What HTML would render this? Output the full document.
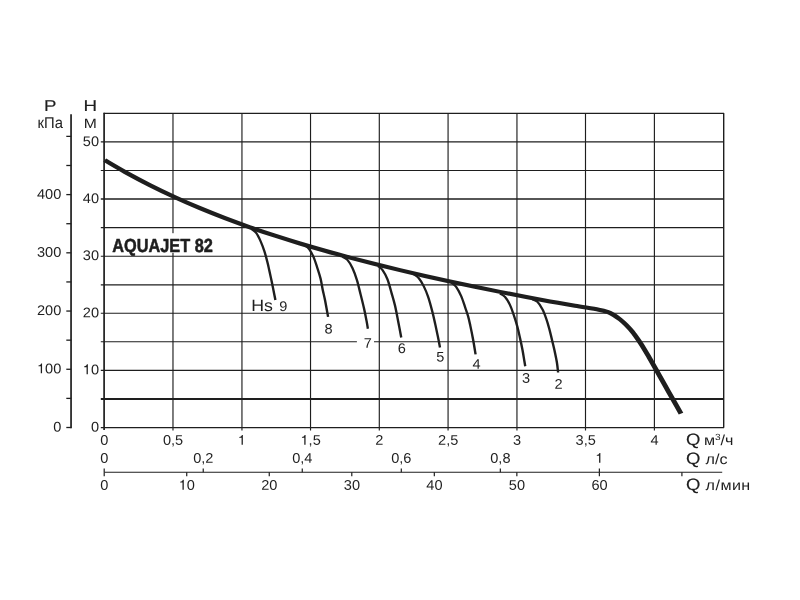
<!DOCTYPE html>
<html><head><meta charset="utf-8"><title>AQUAJET 82</title>
<style>html,body{margin:0;padding:0;background:#fff;}body{width:800px;height:600px;overflow:hidden;}svg{display:block;will-change:transform;}text{font-family:"Liberation Sans",sans-serif;text-rendering:geometricPrecision;fill:#1e1e1e;}</style></head><body>
<svg width="800" height="600" viewBox="0 0 800 600">
<rect width="800" height="600" fill="#fff"/>
<g stroke="#1e1e1e" stroke-width="1.15" fill="none">
<line x1="104.1" y1="112.85" x2="104.1" y2="430.1" stroke-width="1.7"/>
<line x1="172.98" y1="113.35" x2="172.98" y2="430.4"/>
<line x1="241.95" y1="113.35" x2="241.95" y2="430.4"/>
<line x1="310.53" y1="113.35" x2="310.53" y2="430.4"/>
<line x1="379.30" y1="113.35" x2="379.30" y2="430.4"/>
<line x1="448.07" y1="113.35" x2="448.07" y2="430.4"/>
<line x1="516.95" y1="113.35" x2="516.95" y2="430.4"/>
<line x1="585.50" y1="113.35" x2="585.50" y2="430.4"/>
<line x1="654.40" y1="113.35" x2="654.40" y2="430.4"/>
<line x1="723.7" y1="113.35" x2="723.7" y2="427.4" stroke-width="1.4"/>
<line x1="100.8" y1="427.55" x2="724.1" y2="427.55" stroke-width="1.15"/>
<line x1="100.8" y1="399.00" x2="723.6" y2="399.00" stroke-width="1.9"/>
<line x1="100.8" y1="370.30" x2="723.6" y2="370.30" stroke-width="1.15"/>
<path d="M100.8 341.75H356.9M374 341.75H723.6" stroke-width="1.15"/>
<line x1="100.8" y1="313.20" x2="723.6" y2="313.20" stroke-width="1.15"/>
<line x1="100.8" y1="284.80" x2="723.6" y2="284.80" stroke-width="1.15"/>
<line x1="100.8" y1="256.20" x2="723.6" y2="256.20" stroke-width="1.15"/>
<line x1="100.8" y1="227.55" x2="723.6" y2="227.55" stroke-width="1.15"/>
<line x1="100.8" y1="199.00" x2="723.6" y2="199.00" stroke-width="1.6"/>
<line x1="100.8" y1="170.45" x2="723.6" y2="170.45" stroke-width="1.15"/>
<line x1="100.8" y1="141.90" x2="723.6" y2="141.90" stroke-width="1.15"/>
<line x1="103.7" y1="113.35" x2="724.1" y2="113.35" stroke-width="1.15"/>
</g>
<g stroke="#1e1e1e" stroke-width="1.7" fill="none">
<line x1="71.05" y1="114.2" x2="71.05" y2="428.15"/>
<line x1="66.3" y1="427.50" x2="71.25" y2="427.50" stroke-width="1.3"/>
<line x1="66.3" y1="398.39" x2="71.25" y2="398.39" stroke-width="1.3"/>
<line x1="66.3" y1="369.27" x2="71.25" y2="369.27" stroke-width="1.3"/>
<line x1="66.3" y1="340.16" x2="71.25" y2="340.16" stroke-width="1.3"/>
<line x1="66.3" y1="311.05" x2="71.25" y2="311.05" stroke-width="1.3"/>
<line x1="66.3" y1="281.94" x2="71.25" y2="281.94" stroke-width="1.3"/>
<line x1="66.3" y1="252.82" x2="71.25" y2="252.82" stroke-width="1.3"/>
<line x1="66.3" y1="223.71" x2="71.25" y2="223.71" stroke-width="1.3"/>
<line x1="66.3" y1="194.60" x2="71.25" y2="194.60" stroke-width="1.3"/>
<line x1="66.3" y1="165.49" x2="71.25" y2="165.49" stroke-width="1.3"/>
<line x1="66.3" y1="136.38" x2="71.25" y2="136.38" stroke-width="1.3"/>
</g>
<g stroke="#1e1e1e" stroke-width="1.2" fill="none">
<line x1="104.2" y1="472.25" x2="722.2" y2="472.25"/>
<line x1="104.20" y1="468.55" x2="104.20" y2="472.25"/>
<line x1="203.24" y1="468.55" x2="203.24" y2="472.25"/>
<line x1="302.27" y1="468.55" x2="302.27" y2="472.25"/>
<line x1="401.31" y1="468.55" x2="401.31" y2="472.25"/>
<line x1="500.34" y1="468.55" x2="500.34" y2="472.25"/>
<line x1="599.38" y1="468.55" x2="599.38" y2="472.25"/>
<line x1="104.20" y1="472.25" x2="104.20" y2="476.15"/>
<line x1="186.73" y1="472.25" x2="186.73" y2="476.15"/>
<line x1="269.26" y1="472.25" x2="269.26" y2="476.15"/>
<line x1="351.79" y1="472.25" x2="351.79" y2="476.15"/>
<line x1="434.32" y1="472.25" x2="434.32" y2="476.15"/>
<line x1="516.85" y1="472.25" x2="516.85" y2="476.15"/>
<line x1="599.38" y1="472.25" x2="599.38" y2="476.15"/>
<line x1="681.91" y1="472.25" x2="681.91" y2="476.15"/>
</g>
<g transform="scale(1.22 1)"><path d="M85.82 160.20C88.59 162.16 96.27 167.81 102.46 171.98C108.65 176.15 116.12 181.02 122.95 185.23C129.78 189.45 136.61 193.43 143.44 197.25C150.27 201.08 157.10 204.70 163.93 208.18C170.77 211.66 177.60 214.97 184.43 218.15C191.26 221.34 198.09 224.36 204.92 227.29C211.75 230.22 218.58 233.00 225.41 235.71C232.24 238.41 239.07 240.99 245.90 243.50C252.73 246.01 259.56 248.42 266.39 250.77C273.22 253.12 280.05 255.38 286.89 257.58C293.72 259.79 300.55 261.92 307.38 264.01C314.21 266.09 321.04 268.12 327.87 270.10C334.70 272.08 341.53 274.02 348.36 275.91C355.19 277.80 362.02 279.65 368.85 281.46C375.68 283.27 382.51 285.05 389.34 286.78C396.17 288.52 403.01 290.22 409.84 291.88C416.67 293.54 423.50 295.17 430.33 296.76C437.16 298.34 443.99 299.89 450.82 301.40C457.65 302.90 464.65 304.40 471.31 305.78C477.97 307.16 486.34 308.65 490.78 309.67C495.22 310.69 495.90 311.01 497.95 311.90C500.00 312.79 501.37 313.75 503.07 315.00C504.78 316.25 506.49 317.73 508.20 319.40C509.90 321.07 511.61 322.92 513.32 325.00C515.03 327.08 516.73 329.30 518.44 331.90C520.15 334.50 521.86 337.53 523.57 340.60C525.27 343.67 527.15 347.25 528.69 350.30C530.23 353.35 531.25 355.63 532.79 358.90C534.32 362.17 535.86 365.48 537.91 369.90C539.96 374.32 542.86 380.62 545.08 385.40C547.30 390.18 549.04 393.90 551.23 398.60C553.42 403.30 557.04 411.10 558.20 413.60" fill="none" stroke="#1e1e1e" stroke-width="4.1" stroke-linejoin="round"/></g>
<g transform="scale(1.22 1)" fill="none" stroke="#1e1e1e" stroke-width="1.95">
<path d="M206.48 229.40C207.07 230.02 208.85 231.12 210.04 233.10C211.23 235.07 212.49 238.22 213.61 241.25C214.72 244.28 215.78 247.71 216.72 251.25C217.66 254.79 218.61 259.38 219.26 262.50C219.92 265.62 220.05 266.67 220.66 270.00C221.26 273.33 222.16 278.33 222.87 282.50C223.58 286.67 224.44 292.08 224.92 295.00C225.40 297.92 225.60 299.17 225.74 300.00"/>
<path d="M249.51 245.00C250.19 245.73 252.33 247.32 253.61 249.40C254.88 251.48 256.07 254.32 257.17 257.50C258.28 260.68 259.31 264.96 260.25 268.50C261.18 272.04 262.07 275.17 262.79 278.75C263.50 282.33 263.95 286.46 264.55 290.00C265.15 293.54 265.66 295.52 266.39 300.00C267.12 304.48 268.51 314.08 268.93 316.90"/>
<path d="M280.74 256.90C281.42 257.42 283.47 258.13 284.84 260.00C286.20 261.87 287.65 264.77 288.93 268.10C290.22 271.43 291.43 275.62 292.54 280.00C293.65 284.38 294.59 289.60 295.57 294.40C296.56 299.20 297.62 304.33 298.44 308.80C299.26 313.27 299.97 317.88 300.49 321.20C301.01 324.52 301.38 327.49 301.56 328.75"/>
<path d="M309.92 266.25C310.52 266.88 312.24 267.81 313.52 270.00C314.81 272.19 316.41 275.65 317.62 279.40C318.84 283.15 319.80 288.15 320.82 292.50C321.84 296.85 322.84 300.67 323.77 305.50C324.70 310.33 325.54 316.17 326.39 321.50C327.25 326.83 328.48 334.83 328.89 337.50"/>
<path d="M339.14 274.40C339.82 275.02 341.87 276.12 343.24 278.10C344.60 280.08 346.06 283.13 347.34 286.25C348.61 289.37 349.73 292.59 350.90 296.80C352.07 301.01 353.36 306.90 354.34 311.50C355.33 316.10 356.05 320.28 356.80 324.40C357.55 328.52 358.21 332.35 358.85 336.20C359.49 340.05 360.36 345.62 360.66 347.50"/>
<path d="M370.41 283.10C371.00 283.73 372.70 284.71 373.98 286.90C375.25 289.09 376.85 292.82 378.07 296.25C379.30 299.68 380.38 304.17 381.31 307.50C382.25 310.83 382.99 313.23 383.69 316.25C384.39 319.27 384.82 321.81 385.49 325.60C386.16 329.39 386.98 334.20 387.70 339.00C388.43 343.80 389.48 351.83 389.84 354.40"/>
<path d="M409.84 293.75C410.52 294.27 412.57 295.02 413.93 296.90C415.30 298.77 416.84 301.98 418.03 305.00C419.23 308.02 420.11 311.42 421.11 315.00C422.10 318.58 423.16 322.67 424.02 326.50C424.87 330.33 425.52 334.08 426.23 338.00C426.94 341.92 427.68 346.12 428.28 350.00C428.88 353.88 429.46 358.54 429.84 361.25C430.21 363.96 430.42 365.42 430.53 366.25"/>
<path d="M436.48 299.40C437.16 299.82 439.21 300.23 440.57 301.90C441.94 303.57 443.48 306.59 444.67 309.40C445.87 312.21 446.83 315.57 447.75 318.75C448.66 321.93 449.39 325.04 450.16 328.50C450.94 331.96 451.67 335.92 452.38 339.50C453.09 343.08 453.74 346.17 454.43 350.00C455.11 353.83 455.97 358.75 456.48 362.50C456.98 366.25 457.30 370.83 457.46 372.50"/>
</g>
<g transform="translate(104.30 444.85) rotate(0.03) scale(1.04 1)"><text x="-3.89" font-size="14.0">0</text></g>
<g transform="translate(173.08 444.85) rotate(0.03) scale(1.04 1)"><text x="-9.73" font-size="14.0">0,5</text></g>
<g transform="translate(241.85 444.85) rotate(0.03) scale(1.04 1)"><path transform="translate(-3.89 0) scale(0.01400 -0.01400)" d="M347 0H259V505H100V566C190 572 258 622 286 709H347Z" fill="#1e1e1e"/></g>
<g transform="translate(310.63 444.85) rotate(0.03) scale(1.04 1)"><path transform="translate(-9.73 0) scale(0.01400 -0.01400)" d="M347 0H259V505H100V566C190 572 258 622 286 709H347Z" fill="#1e1e1e"/><text x="-1.94" font-size="14.0">,5</text></g>
<g transform="translate(379.40 444.85) rotate(0.03) scale(1.04 1)"><text x="-3.89" font-size="14.0">2</text></g>
<g transform="translate(448.18 444.85) rotate(0.03) scale(1.04 1)"><text x="-9.73" font-size="14.0">2,5</text></g>
<g transform="translate(516.95 444.85) rotate(0.03) scale(1.04 1)"><text x="-3.89" font-size="14.0">3</text></g>
<g transform="translate(585.73 444.85) rotate(0.03) scale(1.04 1)"><text x="-9.73" font-size="14.0">3,5</text></g>
<g transform="translate(654.50 444.85) rotate(0.03) scale(1.04 1)"><text x="-3.89" font-size="14.0">4</text></g>
<g transform="translate(104.20 462.85) rotate(0.03) scale(1.04 1)"><text x="-3.89" font-size="14.0">0</text></g>
<g transform="translate(203.24 462.85) rotate(0.03) scale(1.04 1)"><text x="-9.73" font-size="14.0">0,2</text></g>
<g transform="translate(302.27 462.85) rotate(0.03) scale(1.04 1)"><text x="-9.73" font-size="14.0">0,4</text></g>
<g transform="translate(401.31 462.85) rotate(0.03) scale(1.04 1)"><text x="-9.73" font-size="14.0">0,6</text></g>
<g transform="translate(500.34 462.85) rotate(0.03) scale(1.04 1)"><text x="-9.73" font-size="14.0">0,8</text></g>
<g transform="translate(599.38 462.85) rotate(0.03) scale(1.04 1)"><path transform="translate(-3.89 0) scale(0.01400 -0.01400)" d="M347 0H259V505H100V566C190 572 258 622 286 709H347Z" fill="#1e1e1e"/></g>
<g transform="translate(104.30 489.65) rotate(0.03) scale(1.04 1)"><text x="-3.89" font-size="14.0">0</text></g>
<g transform="translate(186.83 489.65) rotate(0.03) scale(1.04 1)"><path transform="translate(-7.79 0) scale(0.01400 -0.01400)" d="M347 0H259V505H100V566C190 572 258 622 286 709H347Z" fill="#1e1e1e"/><text x="0.00" font-size="14.0">0</text></g>
<g transform="translate(269.36 489.65) rotate(0.03) scale(1.04 1)"><text x="-7.79" font-size="14.0">20</text></g>
<g transform="translate(351.89 489.65) rotate(0.03) scale(1.04 1)"><text x="-7.79" font-size="14.0">30</text></g>
<g transform="translate(434.42 489.65) rotate(0.03) scale(1.04 1)"><text x="-7.79" font-size="14.0">40</text></g>
<g transform="translate(516.95 489.65) rotate(0.03) scale(1.04 1)"><text x="-7.79" font-size="14.0">50</text></g>
<g transform="translate(599.48 489.65) rotate(0.03) scale(1.04 1)"><text x="-7.79" font-size="14.0">60</text></g>
<g transform="translate(99.00 431.40) rotate(0.03) scale(1.04 1)"><text x="-7.79" font-size="14.0">0</text></g>
<g transform="translate(99.00 374.30) rotate(0.03) scale(1.04 1)"><path transform="translate(-15.57 0) scale(0.01400 -0.01400)" d="M347 0H259V505H100V566C190 572 258 622 286 709H347Z" fill="#1e1e1e"/><text x="-7.79" font-size="14.0">0</text></g>
<g transform="translate(99.00 317.20) rotate(0.03) scale(1.04 1)"><text x="-15.57" font-size="14.0">20</text></g>
<g transform="translate(99.00 260.10) rotate(0.03) scale(1.04 1)"><text x="-15.57" font-size="14.0">30</text></g>
<g transform="translate(99.00 203.00) rotate(0.03) scale(1.04 1)"><text x="-15.57" font-size="14.0">40</text></g>
<g transform="translate(99.00 145.90) rotate(0.03) scale(1.04 1)"><text x="-15.57" font-size="14.0">50</text></g>
<g transform="translate(61.30 431.55) rotate(0.03) scale(1.04 1)"><text x="-7.79" font-size="14.0">0</text></g>
<g transform="translate(61.30 373.32) rotate(0.03) scale(1.04 1)"><path transform="translate(-23.36 0) scale(0.01400 -0.01400)" d="M347 0H259V505H100V566C190 572 258 622 286 709H347Z" fill="#1e1e1e"/><text x="-15.57" font-size="14.0">00</text></g>
<g transform="translate(61.30 315.10) rotate(0.03) scale(1.04 1)"><text x="-23.36" font-size="14.0">200</text></g>
<g transform="translate(61.30 256.87) rotate(0.03) scale(1.04 1)"><text x="-23.36" font-size="14.0">300</text></g>
<g transform="translate(61.30 198.65) rotate(0.03) scale(1.04 1)"><text x="-23.36" font-size="14.0">400</text></g>
<text transform="translate(50.30 111.00) scale(1.18 1)" font-size="15.8" text-anchor="middle" font-weight="normal" stroke="#1e1e1e" stroke-width="0.14">P</text>
<text transform="translate(90.40 111.00) scale(1.19 1)" font-size="15.8" text-anchor="middle" font-weight="normal" stroke="#1e1e1e" stroke-width="0.14">H</text>
<text transform="translate(50.20 127.90) scale(0.95 1)" font-size="15.6" text-anchor="middle" font-weight="normal">кПа</text>
<text transform="translate(90.40 127.90) scale(1.155 1)" font-size="13.6" text-anchor="middle" font-weight="normal">М</text>
<rect x="110" y="233.2" width="106" height="19.6" fill="#fff"/>
<text transform="translate(112.3 251.5) scale(0.858 1)" font-size="19" font-weight="bold" stroke="#1e1e1e" stroke-width="0.55" stroke-linejoin="round">AQUAJET 82</text>
<text transform="translate(251.20 311.00) scale(1.09 1)" font-size="16.3" text-anchor="start" font-weight="normal">Hs</text>
<g transform="translate(283.30 311.00) rotate(0.03) scale(1.04 1)"><text x="-3.89" font-size="14.0">9</text></g>
<g transform="translate(328.60 333.50) rotate(0.03) scale(1.04 1)"><text x="-3.89" font-size="14.0">8</text></g>
<g transform="translate(367.70 347.75) rotate(0.03) scale(1.04 1)"><text x="-3.89" font-size="14.0">7</text></g>
<g transform="translate(401.75 353.10) rotate(0.03) scale(1.04 1)"><text x="-3.89" font-size="14.0">6</text></g>
<g transform="translate(440.40 361.60) rotate(0.03) scale(1.04 1)"><text x="-3.89" font-size="14.0">5</text></g>
<g transform="translate(476.60 368.75) rotate(0.03) scale(1.04 1)"><text x="-3.89" font-size="14.0">4</text></g>
<g transform="translate(526.10 382.75) rotate(0.03) scale(1.04 1)"><text x="-3.89" font-size="14.0">3</text></g>
<g transform="translate(558.60 388.75) rotate(0.03) scale(1.04 1)"><text x="-3.89" font-size="14.0">2</text></g>
<text transform="translate(686.00 444.70) scale(1.13 1)" font-size="16.4" text-anchor="start" font-weight="normal" stroke="#1e1e1e" stroke-width="0.15">Q</text>
<text transform="translate(703.90 444.70) scale(1.12 1)" font-size="14.4" text-anchor="start" font-weight="normal">м<tspan font-size="9" dy="-4.8">3</tspan><tspan dy="4.8">/ч</tspan></text>
<text transform="translate(686.00 464.00) scale(1.13 1)" font-size="16.4" text-anchor="start" font-weight="normal" stroke="#1e1e1e" stroke-width="0.15">Q</text>
<text transform="translate(705.60 464.00) scale(1.12 1)" font-size="14.4" text-anchor="start" font-weight="normal">л/с</text>
<text transform="translate(686.00 489.60) scale(1.13 1)" font-size="16.4" text-anchor="start" font-weight="normal" stroke="#1e1e1e" stroke-width="0.15">Q</text>
<text transform="translate(705.60 489.60) scale(1.12 1)" font-size="14.4" text-anchor="start" font-weight="normal" letter-spacing="0.4">л/мин</text>
</svg></body></html>
